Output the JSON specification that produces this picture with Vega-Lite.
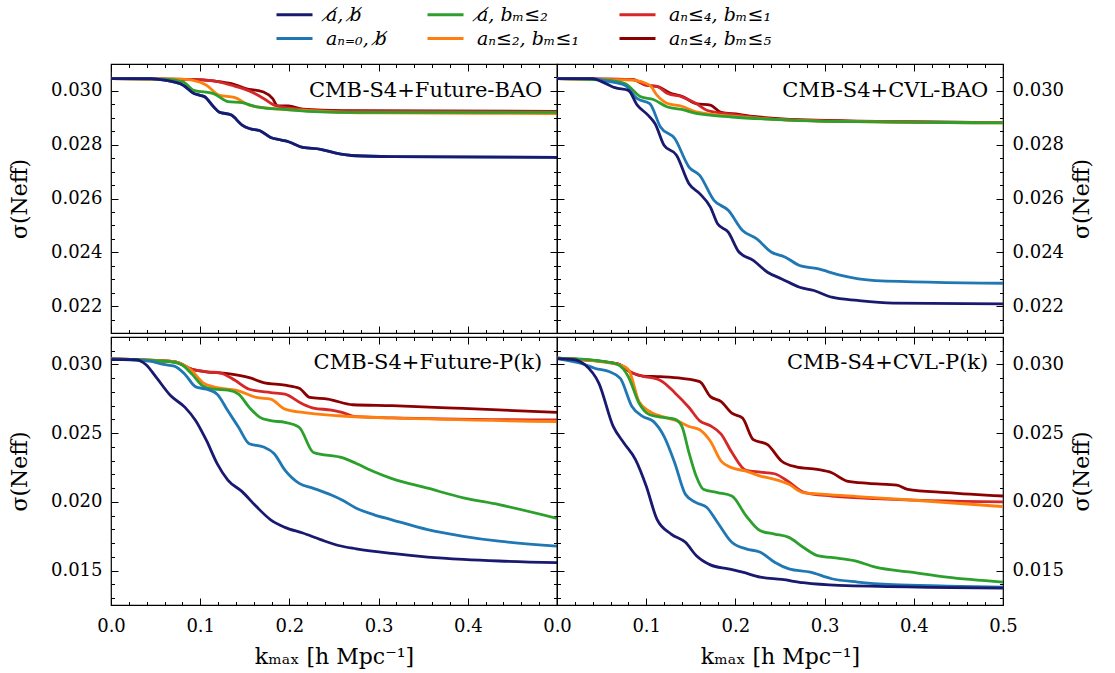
{
"$schema": "https://vega.github.io/schema/vega-lite/v6.json",
"padding": {"left": 7, "top": 1, "right": 5, "bottom": 5},
"datasets": {
"TL": [
{"s":"s6","k":0,"v":0.03046},{"s":"s6","k":0.09,"v":0.03043},{"s":"s6","k":0.115,"v":0.03037},{"s":"s6","k":0.135,"v":0.03027},{"s":"s6","k":0.151,"v":0.03009},{"s":"s6","k":0.171,"v":0.02996},{"s":"s6","k":0.181,"v":0.02972},{"s":"s6","k":0.187,"v":0.02944},{"s":"s6","k":0.199,"v":0.02944},{"s":"s6","k":0.215,"v":0.02932},{"s":"s6","k":0.26,"v":0.02927},{"s":"s6","k":0.5,"v":0.02924},
{"s":"s5","k":0,"v":0.03046},{"s":"s5","k":0.09,"v":0.03043},{"s":"s5","k":0.115,"v":0.03037},{"s":"s5","k":0.135,"v":0.03021},{"s":"s5","k":0.155,"v":0.03},{"s":"s5","k":0.171,"v":0.02972},{"s":"s5","k":0.183,"v":0.02947},{"s":"s5","k":0.203,"v":0.02935},{"s":"s5","k":0.25,"v":0.02925},{"s":"s5","k":0.5,"v":0.02922},
{"s":"s4","k":0,"v":0.03046},{"s":"s4","k":0.08,"v":0.03044},{"s":"s4","k":0.099,"v":0.03033},{"s":"s4","k":0.107,"v":0.03021},{"s":"s4","k":0.121,"v":0.02984},{"s":"s4","k":0.139,"v":0.02975},{"s":"s4","k":0.155,"v":0.02947},{"s":"s4","k":0.179,"v":0.02935},{"s":"s4","k":0.21,"v":0.02928},{"s":"s4","k":0.3,"v":0.02918},{"s":"s4","k":0.5,"v":0.02916},
{"s":"s3","k":0,"v":0.03046},{"s":"s3","k":0.06,"v":0.03044},{"s":"s3","k":0.081,"v":0.03033},{"s":"s3","k":0.093,"v":0.03002},{"s":"s3","k":0.115,"v":0.0299},{"s":"s3","k":0.131,"v":0.0296},{"s":"s3","k":0.147,"v":0.02956},{"s":"s3","k":0.163,"v":0.02941},{"s":"s3","k":0.195,"v":0.02931},{"s":"s3","k":0.235,"v":0.02922},{"s":"s3","k":0.275,"v":0.0292},{"s":"s3","k":0.5,"v":0.0292},
{"s":"s2","k":0,"v":0.03046},{"s":"s2","k":0.045,"v":0.03046},{"s":"s2","k":0.06,"v":0.0304},{"s":"s2","k":0.081,"v":0.03021},{"s":"s2","k":0.093,"v":0.0299},{"s":"s2","k":0.099,"v":0.02984},{"s":"s2","k":0.105,"v":0.02978},{"s":"s2","k":0.115,"v":0.02941},{"s":"s2","k":0.121,"v":0.02922},{"s":"s2","k":0.135,"v":0.0291},{"s":"s2","k":0.147,"v":0.02873},{"s":"s2","k":0.155,"v":0.0286},{"s":"s2","k":0.167,"v":0.02852},{"s":"s2","k":0.179,"v":0.02827},{"s":"s2","k":0.191,"v":0.02817},{"s":"s2","k":0.199,"v":0.02811},{"s":"s2","k":0.215,"v":0.0279},{"s":"s2","k":0.235,"v":0.02783},{"s":"s2","k":0.251,"v":0.0277},{"s":"s2","k":0.275,"v":0.02759},{"s":"s2","k":0.315,"v":0.02756},{"s":"s2","k":0.5,"v":0.02753},
{"s":"s1","k":0,"v":0.03046},{"s":"s1","k":0.045,"v":0.03046},{"s":"s1","k":0.06,"v":0.0304},{"s":"s1","k":0.081,"v":0.03021},{"s":"s1","k":0.093,"v":0.0299},{"s":"s1","k":0.099,"v":0.02984},{"s":"s1","k":0.105,"v":0.02978},{"s":"s1","k":0.115,"v":0.02941},{"s":"s1","k":0.121,"v":0.02922},{"s":"s1","k":0.135,"v":0.0291},{"s":"s1","k":0.147,"v":0.02873},{"s":"s1","k":0.155,"v":0.0286},{"s":"s1","k":0.167,"v":0.02852},{"s":"s1","k":0.179,"v":0.02827},{"s":"s1","k":0.191,"v":0.02817},{"s":"s1","k":0.199,"v":0.02811},{"s":"s1","k":0.215,"v":0.0279},{"s":"s1","k":0.235,"v":0.02783},{"s":"s1","k":0.251,"v":0.0277},{"s":"s1","k":0.275,"v":0.02759},{"s":"s1","k":0.315,"v":0.02756},{"s":"s1","k":0.5,"v":0.02753}
],
"TR": [
{"s":"s6","k":0,"v":0.03046},{"s":"s6","k":0.084,"v":0.03043},{"s":"s6","k":0.1,"v":0.03021},{"s":"s6","k":0.112,"v":0.03017},{"s":"s6","k":0.128,"v":0.0299},{"s":"s6","k":0.14,"v":0.0298},{"s":"s6","k":0.156,"v":0.02953},{"s":"s6","k":0.172,"v":0.02947},{"s":"s6","k":0.184,"v":0.0292},{"s":"s6","k":0.204,"v":0.02913},{"s":"s6","k":0.22,"v":0.02905},{"s":"s6","k":0.3,"v":0.0289},{"s":"s6","k":0.5,"v":0.02882},
{"s":"s5","k":0,"v":0.03046},{"s":"s5","k":0.084,"v":0.03043},{"s":"s5","k":0.1,"v":0.03021},{"s":"s5","k":0.112,"v":0.03017},{"s":"s5","k":0.124,"v":0.0299},{"s":"s5","k":0.14,"v":0.02978},{"s":"s5","k":0.156,"v":0.02953},{"s":"s5","k":0.168,"v":0.02928},{"s":"s5","k":0.188,"v":0.02916},{"s":"s5","k":0.236,"v":0.02897},{"s":"s5","k":0.3,"v":0.02888},{"s":"s5","k":0.5,"v":0.02882},
{"s":"s4","k":0,"v":0.03046},{"s":"s4","k":0.084,"v":0.0304},{"s":"s4","k":0.104,"v":0.03021},{"s":"s4","k":0.112,"v":0.02984},{"s":"s4","k":0.124,"v":0.02953},{"s":"s4","k":0.14,"v":0.02943},{"s":"s4","k":0.156,"v":0.02922},{"s":"s4","k":0.2,"v":0.02905},{"s":"s4","k":0.3,"v":0.02888},{"s":"s4","k":0.5,"v":0.02881},
{"s":"s3","k":0,"v":0.03046},{"s":"s3","k":0.055,"v":0.0304},{"s":"s3","k":0.076,"v":0.03027},{"s":"s3","k":0.094,"v":0.02978},{"s":"s3","k":0.108,"v":0.02968},{"s":"s3","k":0.124,"v":0.0294},{"s":"s3","k":0.14,"v":0.02931},{"s":"s3","k":0.156,"v":0.02916},{"s":"s3","k":0.196,"v":0.02903},{"s":"s3","k":0.236,"v":0.02895},{"s":"s3","k":0.3,"v":0.02887},{"s":"s3","k":0.5,"v":0.02881},
{"s":"s2","k":0,"v":0.03046},{"s":"s2","k":0.04,"v":0.03046},{"s":"s2","k":0.055,"v":0.03037},{"s":"s2","k":0.076,"v":0.03021},{"s":"s2","k":0.09,"v":0.02971},{"s":"s2","k":0.104,"v":0.02953},{"s":"s2","k":0.116,"v":0.02866},{"s":"s2","k":0.132,"v":0.02823},{"s":"s2","k":0.148,"v":0.02717},{"s":"s2","k":0.16,"v":0.02686},{"s":"s2","k":0.176,"v":0.02593},{"s":"s2","k":0.192,"v":0.02556},{"s":"s2","k":0.208,"v":0.02481},{"s":"s2","k":0.224,"v":0.0245},{"s":"s2","k":0.24,"v":0.02401},{"s":"s2","k":0.256,"v":0.02382},{"s":"s2","k":0.272,"v":0.02351},{"s":"s2","k":0.292,"v":0.02339},{"s":"s2","k":0.316,"v":0.02316},{"s":"s2","k":0.357,"v":0.02295},{"s":"s2","k":0.5,"v":0.02285},
{"s":"s1","k":0,"v":0.03046},{"s":"s1","k":0.039,"v":0.03046},{"s":"s1","k":0.055,"v":0.03027},{"s":"s1","k":0.065,"v":0.03012},{"s":"s1","k":0.08,"v":0.03002},{"s":"s1","k":0.09,"v":0.02947},{"s":"s1","k":0.102,"v":0.0291},{"s":"s1","k":0.11,"v":0.02878},{"s":"s1","k":0.12,"v":0.02798},{"s":"s1","k":0.134,"v":0.02761},{"s":"s1","k":0.148,"v":0.02655},{"s":"s1","k":0.16,"v":0.02618},{"s":"s1","k":0.172,"v":0.02568},{"s":"s1","k":0.18,"v":0.02506},{"s":"s1","k":0.192,"v":0.02475},{"s":"s1","k":0.204,"v":0.02401},{"s":"s1","k":0.22,"v":0.0237},{"s":"s1","k":0.236,"v":0.02326},{"s":"s1","k":0.252,"v":0.02301},{"s":"s1","k":0.272,"v":0.0227},{"s":"s1","k":0.288,"v":0.02258},{"s":"s1","k":0.308,"v":0.02233},{"s":"s1","k":0.337,"v":0.02221},{"s":"s1","k":0.377,"v":0.02211},{"s":"s1","k":0.5,"v":0.02208}
],
"BL": [
{"s":"s6","k":0,"v":0.0304},{"s":"s6","k":0.071,"v":0.0302},{"s":"s6","k":0.091,"v":0.02964},{"s":"s6","k":0.107,"v":0.02947},{"s":"s6","k":0.131,"v":0.02933},{"s":"s6","k":0.155,"v":0.02904},{"s":"s6","k":0.171,"v":0.02868},{"s":"s6","k":0.195,"v":0.02849},{"s":"s6","k":0.211,"v":0.02827},{"s":"s6","k":0.223,"v":0.0276},{"s":"s6","k":0.243,"v":0.02748},{"s":"s6","k":0.271,"v":0.02707},{"s":"s6","k":0.315,"v":0.027},{"s":"s6","k":0.395,"v":0.0268},{"s":"s6","k":0.5,"v":0.02651},
{"s":"s5","k":0,"v":0.0304},{"s":"s5","k":0.071,"v":0.0302},{"s":"s5","k":0.091,"v":0.02964},{"s":"s5","k":0.107,"v":0.02947},{"s":"s5","k":0.123,"v":0.02938},{"s":"s5","k":0.139,"v":0.02885},{"s":"s5","k":0.155,"v":0.0282},{"s":"s5","k":0.179,"v":0.02796},{"s":"s5","k":0.195,"v":0.02784},{"s":"s5","k":0.215,"v":0.02712},{"s":"s5","k":0.227,"v":0.02683},{"s":"s5","k":0.247,"v":0.02668},{"s":"s5","k":0.259,"v":0.02651},{"s":"s5","k":0.275,"v":0.0262},{"s":"s5","k":0.315,"v":0.02612},{"s":"s5","k":0.5,"v":0.02596},
{"s":"s4","k":0,"v":0.0304},{"s":"s4","k":0.071,"v":0.0302},{"s":"s4","k":0.091,"v":0.02952},{"s":"s4","k":0.103,"v":0.02868},{"s":"s4","k":0.119,"v":0.02832},{"s":"s4","k":0.143,"v":0.02808},{"s":"s4","k":0.163,"v":0.0276},{"s":"s4","k":0.179,"v":0.02748},{"s":"s4","k":0.195,"v":0.02675},{"s":"s4","k":0.215,"v":0.02651},{"s":"s4","k":0.255,"v":0.02627},{"s":"s4","k":0.315,"v":0.02611},{"s":"s4","k":0.5,"v":0.02585},
{"s":"s3","k":0,"v":0.0304},{"s":"s3","k":0.067,"v":0.0302},{"s":"s3","k":0.079,"v":0.03},{"s":"s3","k":0.091,"v":0.02928},{"s":"s3","k":0.103,"v":0.02844},{"s":"s3","k":0.115,"v":0.0282},{"s":"s3","k":0.131,"v":0.02813},{"s":"s3","k":0.143,"v":0.02784},{"s":"s3","k":0.155,"v":0.02688},{"s":"s3","k":0.167,"v":0.02615},{"s":"s3","k":0.179,"v":0.02591},{"s":"s3","k":0.195,"v":0.02579},{"s":"s3","k":0.211,"v":0.02543},{"s":"s3","k":0.227,"v":0.0236},{"s":"s3","k":0.26,"v":0.0232},{"s":"s3","k":0.275,"v":0.0228},{"s":"s3","k":0.295,"v":0.0222},{"s":"s3","k":0.315,"v":0.0217},{"s":"s3","k":0.355,"v":0.021},{"s":"s3","k":0.395,"v":0.0203},{"s":"s3","k":0.435,"v":0.0198},{"s":"s3","k":0.5,"v":0.0188},
{"s":"s2","k":0,"v":0.0304},{"s":"s2","k":0.043,"v":0.03024},{"s":"s2","k":0.059,"v":0.03},{"s":"s2","k":0.071,"v":0.02988},{"s":"s2","k":0.083,"v":0.02928},{"s":"s2","k":0.095,"v":0.02837},{"s":"s2","k":0.107,"v":0.0282},{"s":"s2","k":0.119,"v":0.02784},{"s":"s2","k":0.131,"v":0.02663},{"s":"s2","k":0.143,"v":0.02543},{"s":"s2","k":0.155,"v":0.02423},{"s":"s2","k":0.171,"v":0.02399},{"s":"s2","k":0.183,"v":0.02351},{"s":"s2","k":0.195,"v":0.02231},{"s":"s2","k":0.211,"v":0.02135},{"s":"s2","k":0.227,"v":0.02099},{"s":"s2","k":0.247,"v":0.0205},{"s":"s2","k":0.259,"v":0.02014},{"s":"s2","k":0.275,"v":0.01954},{"s":"s2","k":0.295,"v":0.01906},{"s":"s2","k":0.315,"v":0.0187},{"s":"s2","k":0.355,"v":0.01798},{"s":"s2","k":0.395,"v":0.0175},{"s":"s2","k":0.435,"v":0.01714},{"s":"s2","k":0.5,"v":0.01678},
{"s":"s1","k":0,"v":0.03036},{"s":"s1","k":0.027,"v":0.03036},{"s":"s1","k":0.039,"v":0.03},{"s":"s1","k":0.051,"v":0.02904},{"s":"s1","k":0.067,"v":0.02772},{"s":"s1","k":0.083,"v":0.02688},{"s":"s1","k":0.095,"v":0.02591},{"s":"s1","k":0.107,"v":0.02447},{"s":"s1","k":0.119,"v":0.02279},{"s":"s1","k":0.131,"v":0.02159},{"s":"s1","k":0.147,"v":0.02075},{"s":"s1","k":0.163,"v":0.01966},{"s":"s1","k":0.179,"v":0.0187},{"s":"s1","k":0.195,"v":0.01815},{"s":"s1","k":0.215,"v":0.01774},{"s":"s1","k":0.235,"v":0.01726},{"s":"s1","k":0.255,"v":0.01683},{"s":"s1","k":0.275,"v":0.01659},{"s":"s1","k":0.315,"v":0.01625},{"s":"s1","k":0.355,"v":0.01599},{"s":"s1","k":0.395,"v":0.01582},{"s":"s1","k":0.435,"v":0.0157},{"s":"s1","k":0.5,"v":0.01558}
],
"BR": [
{"s":"s6","k":0,"v":0.03046},{"s":"s6","k":0.068,"v":0.03005},{"s":"s6","k":0.084,"v":0.0294},{"s":"s6","k":0.096,"v":0.02916},{"s":"s6","k":0.116,"v":0.02911},{"s":"s6","k":0.14,"v":0.02899},{"s":"s6","k":0.16,"v":0.02875},{"s":"s6","k":0.172,"v":0.02766},{"s":"s6","k":0.184,"v":0.0273},{"s":"s6","k":0.196,"v":0.02646},{"s":"s6","k":0.208,"v":0.0261},{"s":"s6","k":0.22,"v":0.02453},{"s":"s6","k":0.236,"v":0.02417},{"s":"s6","k":0.252,"v":0.02296},{"s":"s6","k":0.268,"v":0.02255},{"s":"s6","k":0.292,"v":0.02236},{"s":"s6","k":0.308,"v":0.02212},{"s":"s6","k":0.325,"v":0.02152},{"s":"s6","k":0.349,"v":0.02135},{"s":"s6","k":0.381,"v":0.02123},{"s":"s6","k":0.393,"v":0.02092},{"s":"s6","k":0.437,"v":0.02068},{"s":"s6","k":0.5,"v":0.02043},
{"s":"s5","k":0,"v":0.03046},{"s":"s5","k":0.068,"v":0.03005},{"s":"s5","k":0.084,"v":0.0294},{"s":"s5","k":0.096,"v":0.02916},{"s":"s5","k":0.116,"v":0.02884},{"s":"s5","k":0.132,"v":0.02795},{"s":"s5","k":0.148,"v":0.02687},{"s":"s5","k":0.16,"v":0.0259},{"s":"s5","k":0.172,"v":0.02554},{"s":"s5","k":0.184,"v":0.02494},{"s":"s5","k":0.196,"v":0.02361},{"s":"s5","k":0.212,"v":0.02229},{"s":"s5","k":0.228,"v":0.02217},{"s":"s5","k":0.244,"v":0.02205},{"s":"s5","k":0.26,"v":0.02145},{"s":"s5","k":0.276,"v":0.02072},{"s":"s5","k":0.308,"v":0.02043},{"s":"s5","k":0.357,"v":0.02024},{"s":"s5","k":0.5,"v":0.02},
{"s":"s4","k":0,"v":0.03046},{"s":"s4","k":0.068,"v":0.03},{"s":"s4","k":0.08,"v":0.02964},{"s":"s4","k":0.092,"v":0.0273},{"s":"s4","k":0.104,"v":0.02658},{"s":"s4","k":0.124,"v":0.0261},{"s":"s4","k":0.136,"v":0.02586},{"s":"s4","k":0.148,"v":0.02549},{"s":"s4","k":0.16,"v":0.02525},{"s":"s4","k":0.172,"v":0.02441},{"s":"s4","k":0.184,"v":0.02296},{"s":"s4","k":0.196,"v":0.02248},{"s":"s4","k":0.212,"v":0.02224},{"s":"s4","k":0.228,"v":0.02188},{"s":"s4","k":0.244,"v":0.02164},{"s":"s4","k":0.26,"v":0.02128},{"s":"s4","k":0.276,"v":0.02068},{"s":"s4","k":0.3,"v":0.02055},{"s":"s4","k":0.337,"v":0.02039},{"s":"s4","k":0.397,"v":0.02014},{"s":"s4","k":0.5,"v":0.01966},
{"s":"s3","k":0,"v":0.03046},{"s":"s3","k":0.047,"v":0.03027},{"s":"s3","k":0.068,"v":0.03},{"s":"s3","k":0.08,"v":0.02911},{"s":"s3","k":0.092,"v":0.02718},{"s":"s3","k":0.104,"v":0.02634},{"s":"s3","k":0.116,"v":0.02617},{"s":"s3","k":0.132,"v":0.02602},{"s":"s3","k":0.14,"v":0.02549},{"s":"s3","k":0.148,"v":0.02357},{"s":"s3","k":0.156,"v":0.02188},{"s":"s3","k":0.164,"v":0.02092},{"s":"s3","k":0.18,"v":0.02068},{"s":"s3","k":0.196,"v":0.02043},{"s":"s3","k":0.212,"v":0.01899},{"s":"s3","k":0.228,"v":0.0179},{"s":"s3","k":0.244,"v":0.01766},{"s":"s3","k":0.26,"v":0.01742},{"s":"s3","k":0.276,"v":0.0167},{"s":"s3","k":0.292,"v":0.0161},{"s":"s3","k":0.316,"v":0.0159},{"s":"s3","k":0.333,"v":0.01573},{"s":"s3","k":0.357,"v":0.01525},{"s":"s3","k":0.397,"v":0.01489},{"s":"s3","k":0.437,"v":0.01453},{"s":"s3","k":0.5,"v":0.01417},
{"s":"s2","k":0,"v":0.03043},{"s":"s2","k":0.031,"v":0.03},{"s":"s2","k":0.043,"v":0.02971},{"s":"s2","k":0.059,"v":0.02947},{"s":"s2","k":0.071,"v":0.02899},{"s":"s2","k":0.084,"v":0.02694},{"s":"s2","k":0.096,"v":0.02622},{"s":"s2","k":0.108,"v":0.02586},{"s":"s2","k":0.12,"v":0.02477},{"s":"s2","k":0.132,"v":0.02284},{"s":"s2","k":0.144,"v":0.02055},{"s":"s2","k":0.156,"v":0.01995},{"s":"s2","k":0.168,"v":0.01959},{"s":"s2","k":0.18,"v":0.0185},{"s":"s2","k":0.196,"v":0.01706},{"s":"s2","k":0.212,"v":0.01658},{"s":"s2","k":0.228,"v":0.01634},{"s":"s2","k":0.244,"v":0.01561},{"s":"s2","k":0.26,"v":0.01513},{"s":"s2","k":0.284,"v":0.01489},{"s":"s2","k":0.308,"v":0.01441},{"s":"s2","k":0.337,"v":0.01417},{"s":"s2","k":0.377,"v":0.01398},{"s":"s2","k":0.437,"v":0.01388},{"s":"s2","k":0.5,"v":0.0138},
{"s":"s1","k":0,"v":0.03043},{"s":"s1","k":0.019,"v":0.03036},{"s":"s1","k":0.031,"v":0.03},{"s":"s1","k":0.047,"v":0.02863},{"s":"s1","k":0.063,"v":0.0255},{"s":"s1","k":0.075,"v":0.02429},{"s":"s1","k":0.088,"v":0.02308},{"s":"s1","k":0.1,"v":0.02116},{"s":"s1","k":0.112,"v":0.01875},{"s":"s1","k":0.128,"v":0.01766},{"s":"s1","k":0.144,"v":0.01706},{"s":"s1","k":0.156,"v":0.0161},{"s":"s1","k":0.172,"v":0.01542},{"s":"s1","k":0.192,"v":0.01513},{"s":"s1","k":0.208,"v":0.01489},{"s":"s1","k":0.228,"v":0.01453},{"s":"s1","k":0.252,"v":0.01436},{"s":"s1","k":0.276,"v":0.01412},{"s":"s1","k":0.316,"v":0.01393},{"s":"s1","k":0.5,"v":0.01373}
]
},
"config": {
 "font": "DejaVu Serif",
 "view": {"stroke": "#000", "strokeWidth": 1.2},
 "axis": {"grid": false, "domain": false, "tickColor": "#000", "tickWidth": 1, "labelFont": "DejaVu Serif", "labelFontSize": 18, "labelColor": "#000", "titleFont": "DejaVu Serif", "titleFontSize": 22, "titleFontWeight": "normal", "titleColor": "#000", "labelFlush": false, "labelOverlap": false, "labelBound": false, "minExtent": 0},
 "legend": {"orient": "none", "legendX": 170, "legendY": -63, "direction": "horizontal", "columns": 3, "symbolType": "M-1.5,0H1.5", "symbolSize": 576, "symbolStrokeWidth": 3, "labelFont": "DejaVu Serif", "labelFontStyle": "italic", "labelFontSize": 19, "labelColor": "#000", "labelOffset": 18, "columnPadding": 34, "rowPadding": 0, "padding": 0, "labelLimit": 400}
},
"spacing": 0,
"resolve": {"scale": {"color": "shared"}, "legend": {"color": "shared"}},
"vconcat": [
 {"hconcat": [
  {"data": {"name": "TL"}, "width": 446, "height": 269,
   "layer": [
    {"mark": {"type": "line", "strokeWidth": 2.8, "interpolate": "monotone", "clip": true},
     "encoding": {
      "x": {"field": "k", "type": "quantitative", "scale": {"domain": [0, 0.5], "nice": false, "zero": false}, "axis": null},
      "y": {"field": "v", "type": "quantitative", "scale": {"domain": [0.021, 0.031], "nice": false, "zero": false}, "axis": {"orient": "left", "values": [0.022,0.024,0.026,0.028,0.03], "format": ".3f", "ticks": false, "labelPadding": 9, "title": "σ(Neff)", "titlePadding": 19}},
      "color": {"field": "s", "type": "nominal", "scale": {"domain": ["s1","s3","s5","s2","s4","s6"], "range": ["#191970","#2ca02c","#d62728","#1f77b4","#ff7f0e","#8b0000"]}, "legend": {"title": null, "labelExpr": "datum.label=='s1'?'a\u0338, b\u0338':datum.label=='s2'?'a\u2099\u208c\u2080, b\u0338':datum.label=='s3'?'a\u0338, b\u2098\u2264\u2082':datum.label=='s4'?'a\u2099\u2264\u2082, b\u2098\u2264\u2081':datum.label=='s5'?'a\u2099\u2264\u2084, b\u2098\u2264\u2081':'a\u2099\u2264\u2084, b\u2098\u2264\u2085'"}}
     }},
    {"mark": {"type": "point", "opacity": 0, "size": 0, "strokeWidth": 0, "clip": true}, "encoding": {
      "x": {"field": "k", "type": "quantitative", "axis": {"orient": "bottom", "values": [0,0.1,0.2,0.3,0.4,0.5], "labels": false, "tickSize": 7, "offset": -7, "title": null}},
      "y": {"field": "v", "type": "quantitative", "axis": {"orient": "left", "values": [0.022,0.024,0.026,0.028,0.03], "labels": false, "tickSize": 7, "offset": -7, "title": null}}}},
    {"mark": {"type": "point", "opacity": 0, "size": 0, "strokeWidth": 0, "clip": true}, "encoding": {
      "x": {"field": "k", "type": "quantitative", "axis": {"orient": "bottom", "values": [0.02,0.04,0.06,0.08,0.12,0.14,0.16,0.18,0.22,0.24,0.26,0.28,0.32,0.34,0.36,0.38,0.42,0.44,0.46,0.48], "labels": false, "tickSize": 3.5, "offset": -3.5, "title": null}},
      "y": {"field": "v", "type": "quantitative", "axis": {"orient": "left", "values": [0.0215,0.0225,0.023,0.0235,0.0245,0.025,0.0255,0.0265,0.027,0.0275,0.0285,0.029,0.0295,0.0305], "labels": false, "tickSize": 3.5, "offset": -3.5, "title": null}}}},
    {"mark": {"type": "point", "opacity": 0, "size": 0, "strokeWidth": 0, "clip": true}, "encoding": {
      "x": {"field": "k", "type": "quantitative", "axis": {"orient": "top", "values": [0,0.1,0.2,0.3,0.4,0.5], "labels": false, "tickSize": 7, "offset": -7, "title": null}},
      "y": {"field": "v", "type": "quantitative", "axis": {"orient": "right", "values": [0.022,0.024,0.026,0.028,0.03], "labels": false, "tickSize": 7, "offset": -7, "title": null}}}},
    {"mark": {"type": "point", "opacity": 0, "size": 0, "strokeWidth": 0, "clip": true}, "encoding": {
      "x": {"field": "k", "type": "quantitative", "axis": {"orient": "top", "values": [0.02,0.04,0.06,0.08,0.12,0.14,0.16,0.18,0.22,0.24,0.26,0.28,0.32,0.34,0.36,0.38,0.42,0.44,0.46,0.48], "labels": false, "tickSize": 3.5, "offset": -3.5, "title": null}},
      "y": {"field": "v", "type": "quantitative", "axis": {"orient": "right", "values": [0.0215,0.0225,0.023,0.0235,0.0245,0.025,0.0255,0.0265,0.027,0.0275,0.0285,0.029,0.0295,0.0305], "labels": false, "tickSize": 3.5, "offset": -3.5, "title": null}}}},
    {"data": {"values": [{}]}, "mark": {"type": "text", "align": "right", "baseline": "alphabetic", "font": "DejaVu Serif", "fontSize": 21, "color": "#000"}, "encoding": {
      "x": {"datum": 0.4835, "type": "quantitative", "axis": null},
      "y": {"datum": 0.02976, "type": "quantitative", "axis": null},
      "text": {"datum": "CMB-S4+Future-BAO"}}}
   ],
   "resolve": {"axis": {"x": "independent", "y": "independent"}}},
  {"data": {"name": "TR"}, "width": 446, "height": 269,
   "layer": [
    {"mark": {"type": "line", "strokeWidth": 2.8, "interpolate": "monotone", "clip": true},
     "encoding": {
      "x": {"field": "k", "type": "quantitative", "scale": {"domain": [0, 0.5], "nice": false, "zero": false}, "axis": null},
      "y": {"field": "v", "type": "quantitative", "scale": {"domain": [0.021, 0.031], "nice": false, "zero": false}, "axis": {"orient": "right", "values": [0.022,0.024,0.026,0.028,0.03], "format": ".3f", "ticks": false, "labelPadding": 9, "title": "σ(Neff)", "titlePadding": 8, "titleAngle": 270, "titleBaseline": "top"}},
      "color": {"field": "s", "type": "nominal", "scale": {"domain": ["s1","s3","s5","s2","s4","s6"], "range": ["#191970","#2ca02c","#d62728","#1f77b4","#ff7f0e","#8b0000"]}, "legend": {"title": null, "labelExpr": "datum.label=='s1'?'a\u0338, b\u0338':datum.label=='s2'?'a\u2099\u208c\u2080, b\u0338':datum.label=='s3'?'a\u0338, b\u2098\u2264\u2082':datum.label=='s4'?'a\u2099\u2264\u2082, b\u2098\u2264\u2081':datum.label=='s5'?'a\u2099\u2264\u2084, b\u2098\u2264\u2081':'a\u2099\u2264\u2084, b\u2098\u2264\u2085'"}}
     }},
    {"mark": {"type": "point", "opacity": 0, "size": 0, "strokeWidth": 0, "clip": true}, "encoding": {
      "x": {"field": "k", "type": "quantitative", "axis": {"orient": "bottom", "values": [0,0.1,0.2,0.3,0.4,0.5], "labels": false, "tickSize": 7, "offset": -7, "title": null}},
      "y": {"field": "v", "type": "quantitative", "axis": {"orient": "right", "values": [0.022,0.024,0.026,0.028,0.03], "labels": false, "tickSize": 7, "offset": -7, "title": null}}}},
    {"mark": {"type": "point", "opacity": 0, "size": 0, "strokeWidth": 0, "clip": true}, "encoding": {
      "x": {"field": "k", "type": "quantitative", "axis": {"orient": "bottom", "values": [0.02,0.04,0.06,0.08,0.12,0.14,0.16,0.18,0.22,0.24,0.26,0.28,0.32,0.34,0.36,0.38,0.42,0.44,0.46,0.48], "labels": false, "tickSize": 3.5, "offset": -3.5, "title": null}},
      "y": {"field": "v", "type": "quantitative", "axis": {"orient": "right", "values": [0.0215,0.0225,0.023,0.0235,0.0245,0.025,0.0255,0.0265,0.027,0.0275,0.0285,0.029,0.0295,0.0305], "labels": false, "tickSize": 3.5, "offset": -3.5, "title": null}}}},
    {"mark": {"type": "point", "opacity": 0, "size": 0, "strokeWidth": 0, "clip": true}, "encoding": {
      "x": {"field": "k", "type": "quantitative", "axis": {"orient": "top", "values": [0,0.1,0.2,0.3,0.4,0.5], "labels": false, "tickSize": 7, "offset": -7, "title": null}},
      "y": {"field": "v", "type": "quantitative", "axis": {"orient": "left", "values": [0.022,0.024,0.026,0.028,0.03], "labels": false, "tickSize": 7, "offset": -7, "title": null}}}},
    {"mark": {"type": "point", "opacity": 0, "size": 0, "strokeWidth": 0, "clip": true}, "encoding": {
      "x": {"field": "k", "type": "quantitative", "axis": {"orient": "top", "values": [0.02,0.04,0.06,0.08,0.12,0.14,0.16,0.18,0.22,0.24,0.26,0.28,0.32,0.34,0.36,0.38,0.42,0.44,0.46,0.48], "labels": false, "tickSize": 3.5, "offset": -3.5, "title": null}},
      "y": {"field": "v", "type": "quantitative", "axis": {"orient": "left", "values": [0.0215,0.0225,0.023,0.0235,0.0245,0.025,0.0255,0.0265,0.027,0.0275,0.0285,0.029,0.0295,0.0305], "labels": false, "tickSize": 3.5, "offset": -3.5, "title": null}}}},
    {"data": {"values": [{}]}, "mark": {"type": "text", "align": "right", "baseline": "alphabetic", "font": "DejaVu Serif", "fontSize": 21, "color": "#000"}, "encoding": {
      "x": {"datum": 0.4835, "type": "quantitative", "axis": null},
      "y": {"datum": 0.02976, "type": "quantitative", "axis": null},
      "text": {"datum": "CMB-S4+CVL-BAO"}}}
   ],
   "resolve": {"axis": {"x": "independent", "y": "independent"}}}
 ], "spacing": 0, "bounds": "flush", "resolve": {"scale": {"color": "shared"}, "legend": {"color": "shared"}}},
 {"hconcat": [
  {"data": {"name": "BL"}, "width": 446, "height": 268,
   "layer": [
    {"mark": {"type": "line", "strokeWidth": 2.8, "interpolate": "monotone", "clip": true},
     "encoding": {
      "x": {"field": "k", "type": "quantitative", "scale": {"domain": [0, 0.5], "nice": false, "zero": false}, "axis": {"orient": "bottom", "values": [0,0.1,0.2,0.3,0.4], "format": ".1f", "ticks": false, "labelPadding": 12, "title": "k\u2098\u2090\u2093 [h Mpc\u207b\u00b9]", "titlePadding": 11}},
      "y": {"field": "v", "type": "quantitative", "scale": {"domain": [0.0125, 0.032], "nice": false, "zero": false}, "axis": {"orient": "left", "values": [0.015,0.02,0.025,0.03], "format": ".3f", "ticks": false, "labelPadding": 9, "title": "σ(Neff)", "titlePadding": 19}},
      "color": {"field": "s", "type": "nominal", "scale": {"domain": ["s1","s3","s5","s2","s4","s6"], "range": ["#191970","#2ca02c","#d62728","#1f77b4","#ff7f0e","#8b0000"]}, "legend": {"title": null, "labelExpr": "datum.label=='s1'?'a\u0338, b\u0338':datum.label=='s2'?'a\u2099\u208c\u2080, b\u0338':datum.label=='s3'?'a\u0338, b\u2098\u2264\u2082':datum.label=='s4'?'a\u2099\u2264\u2082, b\u2098\u2264\u2081':datum.label=='s5'?'a\u2099\u2264\u2084, b\u2098\u2264\u2081':'a\u2099\u2264\u2084, b\u2098\u2264\u2085'"}}
     }},
    {"mark": {"type": "point", "opacity": 0, "size": 0, "strokeWidth": 0, "clip": true}, "encoding": {
      "x": {"field": "k", "type": "quantitative", "axis": {"orient": "bottom", "values": [0,0.1,0.2,0.3,0.4,0.5], "labels": false, "tickSize": 7, "offset": -7, "title": null}},
      "y": {"field": "v", "type": "quantitative", "axis": {"orient": "left", "values": [0.015,0.02,0.025,0.03], "labels": false, "tickSize": 7, "offset": -7, "title": null}}}},
    {"mark": {"type": "point", "opacity": 0, "size": 0, "strokeWidth": 0, "clip": true}, "encoding": {
      "x": {"field": "k", "type": "quantitative", "axis": {"orient": "bottom", "values": [0.02,0.04,0.06,0.08,0.12,0.14,0.16,0.18,0.22,0.24,0.26,0.28,0.32,0.34,0.36,0.38,0.42,0.44,0.46,0.48], "labels": false, "tickSize": 3.5, "offset": -3.5, "title": null}},
      "y": {"field": "v", "type": "quantitative", "axis": {"orient": "left", "values": [0.013,0.014,0.016,0.017,0.018,0.019,0.021,0.022,0.023,0.024,0.026,0.027,0.028,0.029,0.031], "labels": false, "tickSize": 3.5, "offset": -3.5, "title": null}}}},
    {"mark": {"type": "point", "opacity": 0, "size": 0, "strokeWidth": 0, "clip": true}, "encoding": {
      "x": {"field": "k", "type": "quantitative", "axis": {"orient": "top", "values": [0,0.1,0.2,0.3,0.4,0.5], "labels": false, "tickSize": 7, "offset": -7, "title": null}},
      "y": {"field": "v", "type": "quantitative", "axis": {"orient": "right", "values": [0.015,0.02,0.025,0.03], "labels": false, "tickSize": 7, "offset": -7, "title": null}}}},
    {"mark": {"type": "point", "opacity": 0, "size": 0, "strokeWidth": 0, "clip": true}, "encoding": {
      "x": {"field": "k", "type": "quantitative", "axis": {"orient": "top", "values": [0.02,0.04,0.06,0.08,0.12,0.14,0.16,0.18,0.22,0.24,0.26,0.28,0.32,0.34,0.36,0.38,0.42,0.44,0.46,0.48], "labels": false, "tickSize": 3.5, "offset": -3.5, "title": null}},
      "y": {"field": "v", "type": "quantitative", "axis": {"orient": "right", "values": [0.013,0.014,0.016,0.017,0.018,0.019,0.021,0.022,0.023,0.024,0.026,0.027,0.028,0.029,0.031], "labels": false, "tickSize": 3.5, "offset": -3.5, "title": null}}}},
    {"data": {"values": [{}]}, "mark": {"type": "text", "align": "right", "baseline": "alphabetic", "font": "DejaVu Serif", "fontSize": 21, "color": "#000"}, "encoding": {
      "x": {"datum": 0.4835, "type": "quantitative", "axis": null},
      "y": {"datum": 0.02964, "type": "quantitative", "axis": null},
      "text": {"datum": "CMB-S4+Future-P(k)"}}}
   ],
   "resolve": {"axis": {"x": "independent", "y": "independent"}}},
  {"data": {"name": "BR"}, "width": 446, "height": 268,
   "layer": [
    {"mark": {"type": "line", "strokeWidth": 2.8, "interpolate": "monotone", "clip": true},
     "encoding": {
      "x": {"field": "k", "type": "quantitative", "scale": {"domain": [0, 0.5], "nice": false, "zero": false}, "axis": {"orient": "bottom", "values": [0,0.1,0.2,0.3,0.4,0.5], "format": ".1f", "ticks": false, "labelPadding": 12, "title": "k\u2098\u2090\u2093 [h Mpc\u207b\u00b9]", "titlePadding": 11}},
      "y": {"field": "v", "type": "quantitative", "scale": {"domain": [0.0125, 0.032], "nice": false, "zero": false}, "axis": {"orient": "right", "values": [0.015,0.02,0.025,0.03], "format": ".3f", "ticks": false, "labelPadding": 9, "title": "σ(Neff)", "titlePadding": 8, "titleAngle": 270, "titleBaseline": "top"}},
      "color": {"field": "s", "type": "nominal", "scale": {"domain": ["s1","s3","s5","s2","s4","s6"], "range": ["#191970","#2ca02c","#d62728","#1f77b4","#ff7f0e","#8b0000"]}, "legend": {"title": null, "labelExpr": "datum.label=='s1'?'a\u0338, b\u0338':datum.label=='s2'?'a\u2099\u208c\u2080, b\u0338':datum.label=='s3'?'a\u0338, b\u2098\u2264\u2082':datum.label=='s4'?'a\u2099\u2264\u2082, b\u2098\u2264\u2081':datum.label=='s5'?'a\u2099\u2264\u2084, b\u2098\u2264\u2081':'a\u2099\u2264\u2084, b\u2098\u2264\u2085'"}}
     }},
    {"mark": {"type": "point", "opacity": 0, "size": 0, "strokeWidth": 0, "clip": true}, "encoding": {
      "x": {"field": "k", "type": "quantitative", "axis": {"orient": "bottom", "values": [0,0.1,0.2,0.3,0.4,0.5], "labels": false, "tickSize": 7, "offset": -7, "title": null}},
      "y": {"field": "v", "type": "quantitative", "axis": {"orient": "right", "values": [0.015,0.02,0.025,0.03], "labels": false, "tickSize": 7, "offset": -7, "title": null}}}},
    {"mark": {"type": "point", "opacity": 0, "size": 0, "strokeWidth": 0, "clip": true}, "encoding": {
      "x": {"field": "k", "type": "quantitative", "axis": {"orient": "bottom", "values": [0.02,0.04,0.06,0.08,0.12,0.14,0.16,0.18,0.22,0.24,0.26,0.28,0.32,0.34,0.36,0.38,0.42,0.44,0.46,0.48], "labels": false, "tickSize": 3.5, "offset": -3.5, "title": null}},
      "y": {"field": "v", "type": "quantitative", "axis": {"orient": "right", "values": [0.013,0.014,0.016,0.017,0.018,0.019,0.021,0.022,0.023,0.024,0.026,0.027,0.028,0.029,0.031], "labels": false, "tickSize": 3.5, "offset": -3.5, "title": null}}}},
    {"mark": {"type": "point", "opacity": 0, "size": 0, "strokeWidth": 0, "clip": true}, "encoding": {
      "x": {"field": "k", "type": "quantitative", "axis": {"orient": "top", "values": [0,0.1,0.2,0.3,0.4,0.5], "labels": false, "tickSize": 7, "offset": -7, "title": null}},
      "y": {"field": "v", "type": "quantitative", "axis": {"orient": "left", "values": [0.015,0.02,0.025,0.03], "labels": false, "tickSize": 7, "offset": -7, "title": null}}}},
    {"mark": {"type": "point", "opacity": 0, "size": 0, "strokeWidth": 0, "clip": true}, "encoding": {
      "x": {"field": "k", "type": "quantitative", "axis": {"orient": "top", "values": [0.02,0.04,0.06,0.08,0.12,0.14,0.16,0.18,0.22,0.24,0.26,0.28,0.32,0.34,0.36,0.38,0.42,0.44,0.46,0.48], "labels": false, "tickSize": 3.5, "offset": -3.5, "title": null}},
      "y": {"field": "v", "type": "quantitative", "axis": {"orient": "left", "values": [0.013,0.014,0.016,0.017,0.018,0.019,0.021,0.022,0.023,0.024,0.026,0.027,0.028,0.029,0.031], "labels": false, "tickSize": 3.5, "offset": -3.5, "title": null}}}},
    {"data": {"values": [{}]}, "mark": {"type": "text", "align": "right", "baseline": "alphabetic", "font": "DejaVu Serif", "fontSize": 21, "color": "#000"}, "encoding": {
      "x": {"datum": 0.4835, "type": "quantitative", "axis": null},
      "y": {"datum": 0.02964, "type": "quantitative", "axis": null},
      "text": {"datum": "CMB-S4+CVL-P(k)"}}}
   ],
   "resolve": {"axis": {"x": "independent", "y": "independent"}}}
 ], "spacing": 0, "bounds": "flush", "resolve": {"scale": {"color": "shared"}, "legend": {"color": "shared"}}}
]
}
